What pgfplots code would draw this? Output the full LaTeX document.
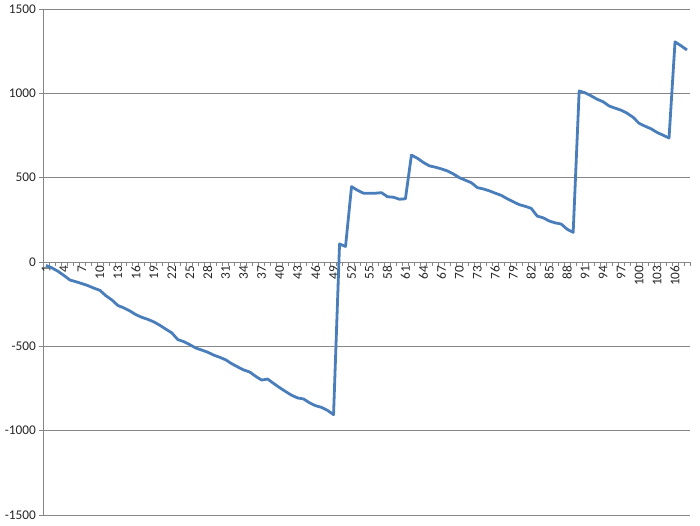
\documentclass[border=0pt]{standalone}
\usepackage{fontspec}
\setmainfont{Carlito}
\usepackage{pgfplots}
\usepackage{pgfplotstable}
\pgfplotsset{compat=1.18}
\definecolor{series}{RGB}{74,126,187}
\definecolor{gridc}{RGB}{134,134,134}
\pgfplotstableread{
x y
1 -20
2 -35
3 -55
4 -80
5 -107
6 -117
7 -128
8 -140
9 -155
10 -168
11 -200
12 -225
13 -258
14 -272
15 -290
16 -312
17 -328
18 -340
19 -355
20 -375
21 -398
22 -420
23 -460
24 -472
25 -490
26 -510
27 -522
28 -535
29 -552
30 -565
31 -580
32 -603
33 -622
34 -640
35 -652
36 -678
37 -700
38 -694
39 -720
40 -745
41 -768
42 -790
43 -806
44 -812
45 -835
46 -852
47 -862
48 -880
49 -905
50 107
51 92
52 447
53 425
54 408
55 408
56 408
57 411
58 387
59 384
60 372
61 375
62 634
63 615
64 590
65 570
66 562
67 552
68 540
69 522
70 500
71 485
72 470
73 441
74 433
75 422
76 408
77 395
78 375
79 357
80 340
81 330
82 318
83 272
84 262
85 243
86 232
87 225
88 194
89 176
90 1014
91 1003
92 985
93 965
94 950
95 925
96 912
97 900
98 882
99 858
100 822
101 805
102 790
103 768
104 752
105 735
106 1305
107 1282
108 1257
}\datatable
\begin{document}
\begin{tikzpicture}
\begin{axis}[
  scale only axis,
  width=647bp, height=506bp,
  xmin=0.5, xmax=108.5, ymin=-1500, ymax=1500,
  axis x line*=middle, axis y line*=left,
  axis line style={gridc, line width=0.75bp, -},
  ytick={-1500,-1000,...,1500},
  ymajorgrids,
  grid style={gridc, line width=0.75bp},
  xtick={0.5,1.5,...,108.5}, xticklabels={},
  xtick style={gridc, line width=0.75bp, yshift=-2bp},
  extra x ticks={1,4,...,106},
  extra x tick style={xtick style={draw=none}, xticklabel style={rotate=90, anchor=east, inner sep=1.5bp}},
  tick align=center,
  major tick length=4bp,
  ytick style={gridc, line width=0.75bp, xshift=-2bp},
  tick label style={font=\fontsize{13.3bp}{16bp}\selectfont, text=black!85},
  /pgf/number format/assume math mode=true,
  /pgf/number format/1000 sep={},
  yticklabel style={inner sep=2bp, xshift=-3bp},
]
\addplot[series, line width=2.8bp, mark=none, line join=round] table[x=x, y=y] {\datatable};
\end{axis}
\path (current axis.south west) ++(-43bp,-11bp) rectangle ++(700bp,526bp);
\end{tikzpicture}
\end{document}
